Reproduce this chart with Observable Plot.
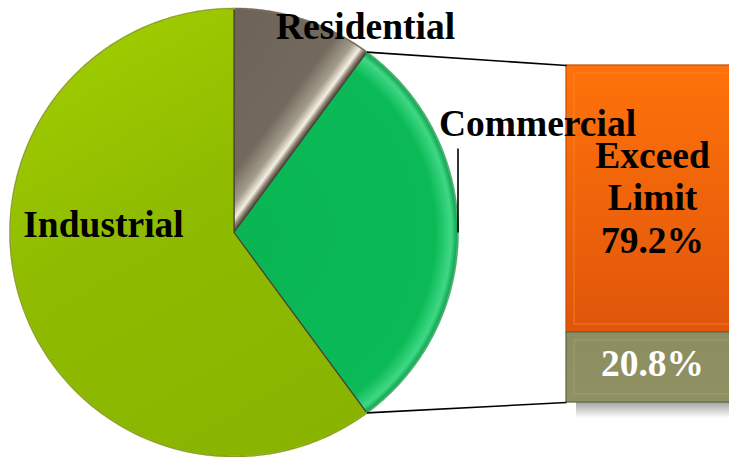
<!DOCTYPE html>
<html><head><meta charset="utf-8">
<script src="https://cdn.jsdelivr.net/npm/d3@7"></script>
<script src="https://cdn.jsdelivr.net/npm/@observablehq/plot@0.6"></script>
<style>body{margin:0;background:#fff;overflow:hidden} #chart{width:729px;height:457px}</style>
</head><body><div id="chart"></div>
<script>
// ---- data ----
const sectors = ["Residential", "Commercial", "Industrial"];
const sectorShares = [10.1, 29.8, 60.1];
const breakdown = ["Exceed Limit", "Within Limit"];
const breakdownShares = [79.2, 20.8];
const breakdownLabels = ["Exceed\nLimit\n79.2%", "20.8%"];

// ---- layout constants ----
const W = 729, H = 457;
const cx = 233.5, cy = 232, R = 224;
const barX1 = 566, barX2 = 738, barY1 = 65, barY2 = 402;
const sectorLabelPos = {Residential: [365, 38], Commercial: [537, 135], Industrial: [103, 236]};
const commercialLeaderTop = 148;

const sliceFill = {Residential: "url(#gRes)", Commercial: "url(#gCom)", Industrial: "url(#gInd)"};
const barFill = {"Exceed Limit": "url(#gExc)", "Within Limit": "url(#gWit)"};
const barText = {"Exceed Limit": "#000", "Within Limit": "#fff"};

// pie geometry
const arcs = d3.pie().sort(null).value(d => d.v)(sectors.map((s, i) => ({s, v: sectorShares[i]})));
const pt = a => ({x: cx + R * Math.sin(a), y: cy - R * Math.cos(a)});
const polys = [];
arcs.forEach(p => {
  const n = 160;
  polys.push({s: p.data.s, x: cx, y: cy});
  for (let k = 0; k <= n; k++) {
    const a = p.startAngle + (p.endAngle - p.startAngle) * k / n;
    polys.push({s: p.data.s, ...pt(a)});
  }
});
const comArc = arcs[1];
const pTop = pt(comArc.startAngle), pBot = pt(comArc.endAngle);
const pMid = pt((comArc.startAngle + comArc.endAngle) / 2);
// normal to the Residential/Commercial border (pointing into Commercial)
const nx = Math.cos(comArc.startAngle), ny = Math.sin(comArc.startAngle);

// bar geometry from shares
let cum = 0;
const bars = breakdown.map((b, i) => {
  const y1 = barY1 + cum / 100 * (barY2 - barY1);
  cum += breakdownShares[i];
  const y2 = barY1 + cum / 100 * (barY2 - barY1);
  return {b, label: breakdownLabels[i], y1, y2};
});

const labels = sectors.map(s => ({s, x: sectorLabelPos[s][0], y: sectorLabelPos[s][1]}));
const links = [
  {x1: pTop.x, y1: pTop.y, x2: barX1, y2: barY1},
  {x1: pBot.x, y1: pBot.y, x2: barX1, y2: barY2},
  {x1: pMid.x, y1: pMid.y, x2: pMid.x, y2: commercialLeaderTop}
];

const font = {fontFamily: "'Liberation Serif','Times New Roman',serif", fontWeight: "bold", fontSize: 37.5};

const plot = Plot.plot({
  width: W, height: H,
  margin: 0,
  x: {domain: [0, W], range: [0, W], axis: null},
  y: {domain: [0, H], range: [0, H], axis: null},
  color: {type: "identity"},
  marks: [
    // bar shadow
    Plot.rect([{}], {x1: barX1 + 10, x2: barX2, y1: barY2 - 4, y2: barY2 + 16, fill: "url(#gShadow)"}),
    // pie slices
    Plot.line(polys, {x: "x", y: "y", z: "s", fill: d => sliceFill[d.s], stroke: "#4d4336", strokeWidth: 1.2, curve: "linear-closed"}),
    // rim highlight
    Plot.line(polys.filter(d => !(d.x === cx && d.y === cy)), {x: "x", y: "y", z: "s", stroke: d => d.s === "Commercial" ? "#5fe69a" : d.s === "Industrial" ? "#b4d62a" : "#8d8478", strokeWidth: 2, strokeOpacity: 0.6}),
    // bar
    Plot.rect(bars, {x1: barX1, x2: barX2, y1: "y1", y2: "y2", fill: d => barFill[d.b], stroke: d => d.b === "Exceed Limit" ? "#c14d00" : "#5f6140", strokeWidth: 1.2}),
    Plot.rect(bars, {x1: barX1 + 8, x2: barX2 - 8, y1: d => d.y1 + 8, y2: d => d.y2 - 8, fill: "none", stroke: d => d.b === "Exceed Limit" ? "#ff8a2a" : "#a5a77a", strokeWidth: 1, strokeOpacity: 0.7}),
    // leader lines
    Plot.link(links, {x1: "x1", y1: "y1", x2: "x2", y2: "y2", stroke: "#000", strokeWidth: 1.6}),
    // sector labels
    Plot.text(labels, {x: "x", y: "y", text: "s", lineAnchor: "bottom", fill: "#000", ...font}),
    // bar labels
    Plot.text(bars, {x: (barX1 + barX2) / 2, y: d => d.b === "Exceed Limit" ? 252 : 375, text: "label", lineAnchor: "bottom", lineHeight: 1.13, fill: d => barText[d.b], ...font})
  ]
});

plot.insertAdjacentHTML("afterbegin", `<defs>
  <linearGradient id="gInd" gradientUnits="userSpaceOnUse" x1="60" y1="40" x2="300" y2="456">
    <stop offset="0" stop-color="#a0cc00"/><stop offset="0.4" stop-color="#8fbc00"/><stop offset="1" stop-color="#88b400"/>
  </linearGradient>
  <radialGradient id="gCom" gradientUnits="userSpaceOnUse" cx="${cx}" cy="${cy}" r="${R}">
    <stop offset="0" stop-color="#09b553"/><stop offset="0.9" stop-color="#0bba57"/><stop offset="0.97" stop-color="#3fd884"/><stop offset="1" stop-color="#0a9c49"/>
  </radialGradient>
  <linearGradient id="gRes" gradientUnits="userSpaceOnUse" x1="${cx - 140 * nx}" y1="${cy - 140 * ny}" x2="${cx}" y2="${cy}">
    <stop offset="0" stop-color="#6c6255"/><stop offset="0.75" stop-color="#736a5d"/><stop offset="0.88" stop-color="#a39b8c"/><stop offset="0.945" stop-color="#f5f0e3"/><stop offset="0.975" stop-color="#8a7f70"/><stop offset="1" stop-color="#4e4438"/>
  </linearGradient>
  <linearGradient id="gExc" x1="0" y1="0" x2="0" y2="1">
    <stop offset="0" stop-color="#ff720a"/><stop offset="1" stop-color="#e0560a"/>
  </linearGradient>
  <linearGradient id="gWit" x1="0" y1="0" x2="0" y2="1">
    <stop offset="0" stop-color="#8c8e61"/><stop offset="1" stop-color="#8f9163"/>
  </linearGradient>
  <linearGradient id="gShadow" x1="0" y1="0" x2="0" y2="1">
    <stop offset="0" stop-color="#000" stop-opacity="0.45"/><stop offset="1" stop-color="#000" stop-opacity="0"/>
  </linearGradient>
</defs>`);

document.getElementById("chart").appendChild(plot);
</script>
</body></html>
